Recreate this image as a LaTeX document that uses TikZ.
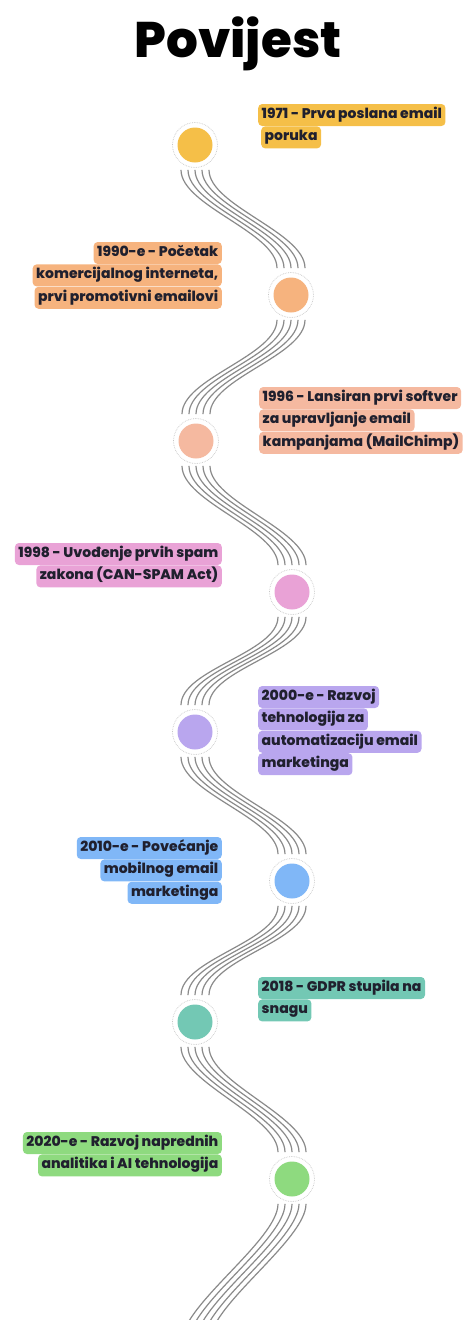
\documentclass[tikz,border=0pt]{standalone}
\usepackage{fontspec}
\setmainfont{Poppins}[BoldFont={Poppins ExtraBold}]

\definecolor{ink}{HTML}{20202E}
\definecolor{wavegray}{HTML}{8A8A8A}
\definecolor{cyel}{HTML}{F5BF48}
\definecolor{cora}{HTML}{F6B37E}
\definecolor{csal}{HTML}{F5B9A0}
\definecolor{cpink}{HTML}{E9A2D6}
\definecolor{cpur}{HTML}{B9A6EE}
\definecolor{cblue}{HTML}{80B7F7}
\definecolor{cteal}{HTML}{73C8B4}
\definecolor{cgreen}{HTML}{8EDA7F}

\tikzset{
  ring/.style={circle, draw=gray!45, densely dotted, line width=0.7pt, fill=white, minimum size=45pt, inner sep=0pt},
  wave/.style={draw=wavegray, line width=1.2pt},
  lblline/.style={rounded corners=4pt, inner xsep=3.5pt, inner ysep=4pt, text height=10.5pt, text depth=3.5pt,
    text=ink, font=\bfseries\fontsize{14}{15}\selectfont},
}

\begin{document}
\begin{tikzpicture}[x=1pt, y=-1pt]
    \useasboundingbox (0,0) rectangle (464,1320);

    \node[anchor=base, text=black, font=\bfseries\fontsize{50}{50}\selectfont] (title) at (238,57) {Povijest};

    % circles
    \node[ring] (c1) at (195,145) {};
    \node[ring] (c2) at (291,295) {};
    \node[ring] (c3) at (196,441) {};
    \node[ring] (c4) at (292,592) {};
    \node[ring] (c5) at (195,732) {};
    \node[ring] (c6) at (292,881) {};
    \node[ring] (c7) at (195,1022) {};
    \node[ring] (c8) at (292,1179) {};
    \coordinate (cend) at (196,1345);

    \fill[cyel] (c1) circle (17.5pt);
    \fill[cora] (c2) circle (17.5pt);
    \fill[csal] (c3) circle (17.5pt);
    \fill[cpink] (c4) circle (17.5pt);
    \fill[cpur] (c5) circle (17.5pt);
    \fill[cblue] (c6) circle (17.5pt);
    \fill[cteal] (c7) circle (17.5pt);
    \fill[cgreen] (c8) circle (17.5pt);

    % wavy connectors
    \foreach \a/\b in {c1/c2, c2/c3, c3/c4, c4/c5, c5/c6, c6/c7, c7/c8, c8/cend}
      \foreach \o in {-14,-7,0,7,14}
        \draw[wave] ([xshift=\o pt, yshift=-2pt]\a.south) .. controls +(0,36) and +(0,-36) .. ([xshift=\o pt, yshift=4pt]\b.north);

    % labels
    \node[lblline, fill=cyel, anchor=west] (t1a) at (258,115) {1971 - Prva poslana email};
    \node[lblline, fill=cyel, anchor=north west] (t1b) at ([xshift=3pt]t1a.south west) {poruka};

    \node[lblline, fill=cora, anchor=east] (t2a) at (222,253) {1990-e - Početak};
    \node[lblline, fill=cora, anchor=north east] (t2b) at (t2a.south east) {komercijalnog interneta,};
    \node[lblline, fill=cora, anchor=north east] (t2c) at (t2b.south east) {prvi promotivni emailovi};

    \node[lblline, fill=csal, anchor=west] (t3a) at (259,398) {1996 - Lansiran prvi softver};
    \node[lblline, fill=csal, anchor=north west] (t3b) at (t3a.south west) {za upravljanje email};
    \node[lblline, fill=csal, anchor=north west] (t3c) at (t3b.south west) {kampanjama (MailChimp)};

    \node[lblline, fill=cpink, anchor=east] (t4a) at (222,554) {1998 - Uvođenje prvih spam};
    \node[lblline, fill=cpink, anchor=north east] (t4b) at (t4a.south east) {zakona (CAN-SPAM Act)};

    \node[lblline, fill=cpur, anchor=west] (t5a) at (258,697) {2000-e - Razvoj};
    \node[lblline, fill=cpur, anchor=north west] (t5b) at (t5a.south west) {tehnologija za};
    \node[lblline, fill=cpur, anchor=north west] (t5c) at (t5b.south west) {automatizaciju email};
    \node[lblline, fill=cpur, anchor=north west] (t5d) at (t5c.south west) {marketinga};

    \node[lblline, fill=cblue, anchor=east] (t6a) at (222,848) {2010-e - Povećanje};
    \node[lblline, fill=cblue, anchor=north east] (t6b) at (t6a.south east) {mobilnog email};
    \node[lblline, fill=cblue, anchor=north east] (t6c) at (t6b.south east) {marketinga};

    \node[lblline, fill=cteal, anchor=west] (t7a) at (258,988) {2018 - GDPR stupila na};
    \node[lblline, fill=cteal, anchor=north west] (t7b) at (t7a.south west) {snagu};

    \node[lblline, fill=cgreen, anchor=east] (t8a) at (222,1143) {2020-e - Razvoj naprednih};
    \node[lblline, fill=cgreen, anchor=north east] (t8b) at (t8a.south east) {analitika i AI tehnologija};
\end{tikzpicture}
\end{document}
